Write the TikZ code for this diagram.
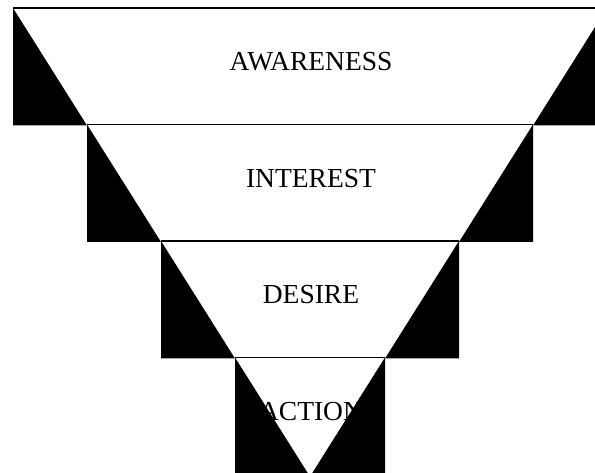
\documentclass[tikz,border=0pt]{standalone}
\usepackage{fontspec}
\setmainfont{Liberation Serif}
\begin{document}
\begin{tikzpicture}[x=1pt,y=-1pt,
  blk/.style={fill=black,draw=none},
  topline/.style={draw=black,line width=1.4pt},
  lbl/.style={font=\fontsize{27.5}{31}\selectfont, anchor=base, inner sep=0pt}]
\useasboundingbox (0,0) rectangle (595,473);
\clip (0,0) rectangle (595,473);
\fill[white] (0,0) rectangle (595,473);
\foreach \i/\t [evaluate=\i as \yt using 8+116.5*\i, evaluate=\i as \L using 13+74*\i, evaluate=\i as \R using 607-74*\i] in {0/AWARENESS,1/INTEREST,2/DESIRE,3/ACTION} {
  \node[lbl] (t\i) at (311,\yt+63) {\t};
  \fill[blk] (\L,\yt) -- (\L,\yt+117.5) -- (\L+74,\yt+117.5) -- cycle;
  \fill[blk] (\R,\yt) -- (\R,\yt+117.5) -- (\R-74,\yt+117.5) -- cycle;
  \draw[topline] (\L,\yt) -- (\R,\yt);
}
\end{tikzpicture}
\end{document}
